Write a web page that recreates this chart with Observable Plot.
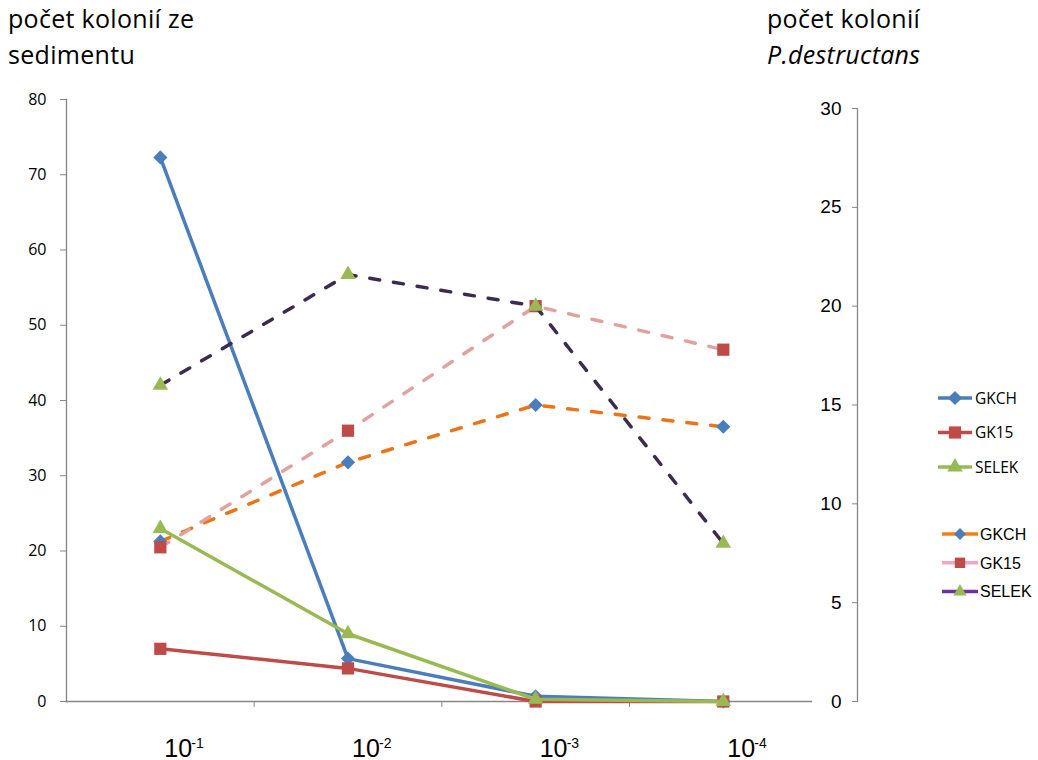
<!DOCTYPE html>
<html><head><meta charset="utf-8">
<script src="https://cdn.jsdelivr.net/npm/d3@7"></script>
<script src="https://cdn.jsdelivr.net/npm/@observablehq/plot@0.6"></script>
<style>
body{margin:0;background:#fff;}
#wrap{position:relative;width:1038px;height:760px;overflow:hidden;font-family:"Open Sans",sans-serif;color:#000;}
#wrap svg{display:block;}
.title{position:absolute;top:0;font-size:25px;line-height:36px;letter-spacing:0.3px;white-space:nowrap;font-family:"Open Sans",sans-serif;}
</style></head><body><div id="wrap"></div>
<script>
// ---- data ----
const tickBase = "10";
const exponents = ["-1", "-2", "-3", "-4"];
const seriesNames = ["GKCH", "GK15", "SELEK"];
// left axis: počet kolonií ze sedimentu (solid lines)
const sedimentGKCH = [72.3, 5.7, 0.7, 0];
const sedimentGK15 = [7.0, 4.4, 0, 0];
const sedimentSELEK = [23.0, 9.0, 0.3, 0];
// right axis: počet kolonií P.destructans (dashed lines)
const destructansGKCH = [8.1, 12.1, 15.0, 13.9];
const destructansGK15 = [7.8, 13.7, 20.0, 17.8];
const destructansSELEK = [16.0, 21.6, 20.0, 8.0];
const leftTicks = [0, 10, 20, 30, 40, 50, 60, 70, 80];
const rightTicks = [0, 5, 10, 15, 20, 25, 30];
// right axis maximum (30) sits at 78.8 on the left scale
const rightMaxOnLeft = 78.8;

// ---- styles ----
const markerColor = {GKCH: "#4A7EBB", GK15: "#BE4B48", SELEK: "#98B954"};
const solidColor = {GKCH: "#4A7EBB", GK15: "#BE4B48", SELEK: "#98B954"};
const dashColor = {GKCH: "#EC7417", GK15: "#E0A19F", SELEK: "#3B2C4F"};
const legendDashColor = {GKCH: "#F0801E", GK15: "#F4A3C4", SELEK: "#7030A0"};
const symbolOf = {GKCH: "diamond2", GK15: "square", SELEK: "triangle2"};
const rOf = {GKCH: 6.4, GK15: 6.9, SELEK: 7.4};

const k = rightMaxOnLeft / rightTicks[rightTicks.length - 1];
const sediment = [sedimentGKCH, sedimentGK15, sedimentSELEK];
const destructans = [destructansGKCH, destructansGK15, destructansSELEK];
const idx = exponents.map((_, i) => i);

const rows = [];
seriesNames.forEach((name, s) => {
  sediment[s].forEach((v, i) => rows.push({group: "sed", name, i, v, y: v}));
  destructans[s].forEach((v, i) => rows.push({group: "pd", name, i, v, y: v * k}));
});

const W = 1038, H = 760, mL = 66, mR = 227, mT = 99, mB = 59;
const plotH = H - mT - mB;
const axisGray = "#868686";

const marks = [
  Plot.frame({anchor: "left", stroke: axisGray, strokeWidth: 1.3}),
  Plot.frame({anchor: "bottom", stroke: axisGray, strokeWidth: 1.3}),
  Plot.frame({anchor: "left", dx: 791, insetTop: plotH * (1 - rightMaxOnLeft / 80), stroke: axisGray, strokeWidth: 1.3}),
  Plot.axisY(leftTicks, {anchor: "left", tickSize: 6, tickPadding: 14, stroke: axisGray, fontSize: 16, fontFamily: "Open Sans", label: null}),
  Plot.axisY(rightTicks.map(t => t * k), {anchor: "left", dx: 791, tickSize: 5, tickPadding: 11, stroke: axisGray, tickFormat: d => String(Math.round(d / k)), fontSize: 19, fontFamily: "Liberation Sans Narrow, Liberation Sans, Arial", label: null}),
  Plot.axisX([0.5, 1.5, 2.5], {anchor: "bottom", tickSize: 6, stroke: axisGray, tickFormat: () => "", label: null}),
  Plot.text(idx, {x: d => d, frameAnchor: "bottom", text: () => tickBase, textAnchor: "start", lineAnchor: "bottom", dx: 4, dy: 55, fontSize: 25, fontFamily: "Liberation Sans, Arial"}),
  Plot.text(idx, {x: d => d, frameAnchor: "bottom", text: d => exponents[d], textAnchor: "start", lineAnchor: "bottom", dx: 31, dy: 46, fontSize: 14, fontFamily: "Liberation Sans, Arial"})
];
for (const name of seriesNames) {
  const data = rows.filter(d => d.group === "sed" && d.name === name);
  marks.push(Plot.line(data, {x: "i", y: "y", stroke: solidColor[name], strokeWidth: 3.5}));
  marks.push(Plot.dot(data, {x: "i", y: "y", symbol: symbolOf[name], fill: markerColor[name], r: rOf[name]}));
}
for (const name of seriesNames) {
  const data = rows.filter(d => d.group === "pd" && d.name === name);
  marks.push(Plot.line(data, {x: "i", y: "y", stroke: dashColor[name], strokeWidth: 3.5, strokeDasharray: "10,14", strokeLinecap: "round"}));
  marks.push(Plot.dot(data, {x: "i", y: "y", symbol: symbolOf[name], fill: markerColor[name], r: rOf[name]}));
}

const chart = Plot.plot({
  width: W, height: H,
  marginLeft: mL, marginRight: mR, marginTop: mT, marginBottom: mB,
  x: {type: "linear", domain: [-0.5, 3.47], label: null},
  y: {domain: [0, 80], label: null},
  style: {background: "transparent", overflow: "visible"},
  marks
});

const wrap = document.getElementById("wrap");
wrap.appendChild(chart);

function addTitle(left, lines) {
  const t = document.createElement("div");
  t.className = "title";
  t.style.left = left + "px";
  lines.forEach(([txt, italic]) => {
    const d = document.createElement("div");
    d.textContent = txt;
    if (italic) d.style.fontStyle = "italic";
    t.appendChild(d);
  });
  wrap.appendChild(t);
}
addTitle(8, [["počet kolonií ze", false], ["sedimentu", false]]);
addTitle(767, [["počet kolonií", false], ["P.destructans", true]]);

// legends
function addLegend(cfg) {
  const svg = d3.create("svg").attr("width", 110).attr("height", cfg.step * 3 + 20)
    .style("position", "absolute").style("left", cfg.left + "px").style("top", cfg.top + "px");
  seriesNames.forEach((name, j) => {
    const y = 10 + j * cfg.step;
    svg.append("line").attr("x1", cfg.x1).attr("x2", cfg.x2).attr("y1", y).attr("y2", y)
      .attr("stroke", cfg.lineColor[name]).attr("stroke-width", cfg.lw);
    const s = {diamond2: d3.symbolDiamond2, square: d3.symbolSquare, triangle2: d3.symbolTriangle2}[symbolOf[name]];
    const rr = rOf[name] * cfg.scale;
    svg.append("path").attr("d", d3.symbol(s, Math.PI * rr * rr)())
      .attr("transform", `translate(${(cfg.x1 + cfg.x2) / 2},${y})`).attr("fill", markerColor[name]);
    svg.append("text").attr("x", cfg.tx).attr("y", y).attr("dy", "0.36em")
      .attr("font-family", cfg.font).attr("font-size", cfg.fs).attr("fill", "#000").text(name);
  });
  wrap.appendChild(svg.node());
}
addLegend({left: 930, top: 388, step: 34.5, x1: 8, x2: 42, tx: 45, lw: 3.5, lineColor: solidColor, scale: 1.0, font: "Open Sans", fs: 15.5});
addLegend({left: 930, top: 524, step: 28.8, x1: 12, x2: 48, tx: 50, lw: 3.5, lineColor: legendDashColor, scale: 0.85, font: "Liberation Sans, Arial", fs: 16});
</script>
</body></html>
